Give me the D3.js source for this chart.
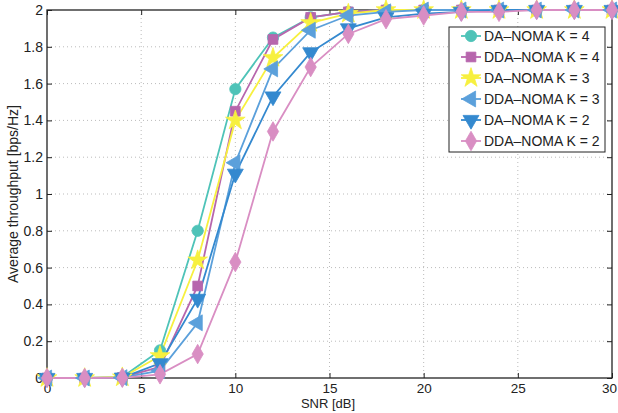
<!DOCTYPE html>
<html><head><meta charset="utf-8">
<script src="https://cdn.jsdelivr.net/npm/d3@7"></script>
<style>body{margin:0;background:#fff}svg{display:block}text{font-family:"Liberation Sans",Arial,sans-serif;fill:#222}</style>
</head><body>
<svg id="c" width="618" height="413"></svg>
<script>
const snr = [0,2,4,6,8,10,12,14,16,18,20,22,24,26,28,30];
const daK4  = [0,0,0.005,0.15,0.80,1.57,1.85,1.96,1.99,2,2,2,2,2,2,2];
const ddaK4 = [0,0,0.003,0.06,0.50,1.45,1.84,1.96,1.99,2,2,2,2,2,2,2];
const daK3  = [0,0,0.004,0.12,0.64,1.40,1.74,1.93,1.98,2,2,2,2,2,2,2];
const ddaK3 = [0,0,0.002,0.04,0.30,1.17,1.68,1.89,1.97,1.99,2,2,2,2,2,2];
const daK2  = [0,0,0.002,0.08,0.43,1.11,1.53,1.77,1.90,1.96,1.98,1.99,2,2,2,2];
const ddaK2 = [0,0,0.001,0.02,0.13,0.63,1.34,1.69,1.87,1.95,1.97,1.99,1.99,2,2,2];
const seriesNames = ["DA\u2013NOMA K = 4","DDA\u2013NOMA K = 4","DA\u2013NOMA K = 3","DDA\u2013NOMA K = 3","DA\u2013NOMA K = 2","DDA\u2013NOMA K = 2"];
const xTicks = [0,5,10,15,20,25,30];
const yTicks = [0,0.2,0.4,0.6,0.8,1,1.2,1.4,1.6,1.8,2];

const series = [
  {name:seriesNames[0], vals:daK4, color:"#4ec3b8", sym:"circle"},
  {name:seriesNames[1], vals:ddaK4, color:"#b766ad", sym:"square"},
  {name:seriesNames[2], vals:daK3, color:"#f7f03f", sym:"star"},
  {name:seriesNames[3], vals:ddaK3, color:"#5ba0db", sym:"left"},
  {name:seriesNames[4], vals:daK2, color:"#3489cf", sym:"down"},
  {name:seriesNames[5], vals:ddaK2, color:"#d98ec3", sym:"diamond"}
];

const svg = d3.select("#c");
const L=47,R=612,T=10,B=378;
const x = d3.scaleLinear().domain([0,30]).range([L,R]);
const y = d3.scaleLinear().domain([0,2]).range([B,T]);

// grid
const g = svg.append("g");
g.selectAll(".gx").data(xTicks.slice(1,-1)).enter().append("line")
  .attr("x1",d=>x(d)).attr("x2",d=>x(d)).attr("y1",T).attr("y2",B)
  .attr("stroke","#bbb").attr("stroke-width",1).attr("stroke-dasharray","1,3");
g.selectAll(".gy").data(yTicks.slice(1,-1)).enter().append("line")
  .attr("y1",d=>y(d)).attr("y2",d=>y(d)).attr("x1",L).attr("x2",R)
  .attr("stroke","#bbb").attr("stroke-width",1).attr("stroke-dasharray","1,3");

// axes
const fmt = d=>d3.format("~g")(d);
svg.append("g").attr("transform",`translate(0,${B})`)
  .call(d3.axisBottom(x).tickValues(xTicks).tickFormat(fmt).tickSizeInner(-5).tickSizeOuter(0).tickPadding(5))
  .call(a=>{a.select(".domain").remove();
    a.selectAll("text").attr("font-size",13.5).style("font-family","Liberation Sans, Arial")
     .attr("dx",d=>d===30?-3:0);
    a.selectAll("line").attr("stroke","#222");});
svg.append("g").attr("transform",`translate(${L},0)`)
  .call(d3.axisLeft(y).tickValues(yTicks).tickFormat(fmt).tickSizeInner(-5).tickSizeOuter(0).tickPadding(4))
  .call(a=>{a.select(".domain").remove();a.selectAll("text").attr("font-size",14).style("font-family","Liberation Sans, Arial");a.selectAll("line").attr("stroke","#222");});
svg.append("g").attr("transform",`translate(0,${T})`)
  .call(d3.axisTop(x).tickValues(xTicks).tickFormat("").tickSizeInner(-5).tickSizeOuter(0))
  .call(a=>{a.select(".domain").remove();a.selectAll("line").attr("stroke","#222");});
svg.append("g").attr("transform",`translate(${R},0)`)
  .call(d3.axisRight(y).tickValues(yTicks).tickFormat("").tickSizeInner(-5).tickSizeOuter(0))
  .call(a=>{a.select(".domain").remove();a.selectAll("line").attr("stroke","#222");});
svg.append("rect").attr("x",L).attr("y",T).attr("width",R-L).attr("height",B-T)
  .attr("fill","none").attr("stroke","#222").attr("stroke-width",1.3);

// symbols
function symPath(sym){
  const m = {circle:[d3.symbolCircle,100],square:[d3.symbolSquare,95],star:[d3.symbolStar,120],
             diamond:[d3.symbolDiamond,110],left:[d3.symbolTriangle,110],down:[d3.symbolTriangle,110]};
  return d3.symbol().type(m[sym][0]).size(m[sym][1])();
}
function symRot(sym){ return sym==="left"?-90:(sym==="down"?180:0); }

const line = d3.line().x((d,i)=>x(snr[i])).y(d=>y(d));
series.forEach(s=>{
  svg.append("path").datum(s.vals).attr("d",line).attr("fill","none")
    .attr("stroke",s.color).attr("stroke-width",1.8);
});
series.forEach(s=>{
  svg.append("g").selectAll("path").data(s.vals).enter().append("path")
    .attr("d",symPath(s.sym))
    .attr("transform",(d,i)=>`translate(${x(snr[i])},${y(d)}) rotate(${symRot(s.sym)})`)
    .attr("fill",s.color).attr("stroke",s.color).attr("stroke-width",0.8);
});

// legend
const lg = svg.append("g");
lg.append("rect").attr("x",449).attr("y",27).attr("width",156).attr("height",125)
  .attr("fill","#fff").attr("stroke","#222").attr("stroke-width",1);
series.forEach((s,i)=>{
  const yy = 36 + i*21;
  lg.append("line").attr("x1",461).attr("x2",481).attr("y1",yy).attr("y2",yy)
    .attr("stroke",s.color).attr("stroke-width",1.8);
  lg.append("path").attr("d",symPath(s.sym))
    .attr("transform",`translate(471,${yy}) rotate(${symRot(s.sym)})`)
    .attr("fill",s.color).attr("stroke",s.color).attr("stroke-width",0.8);
  lg.append("text").attr("x",484).attr("y",yy+5).attr("font-size",14).text(s.name);
});

// labels
svg.append("text").attr("x",328).attr("y",408).attr("text-anchor","middle")
  .attr("font-size",13).text("SNR [dB]");
svg.append("text").attr("transform",`translate(18,${(T+B)/2}) rotate(-90)`)
  .attr("text-anchor","middle").attr("font-size",14).text("Average throughput [bps/Hz]");
</script>
</body></html>
